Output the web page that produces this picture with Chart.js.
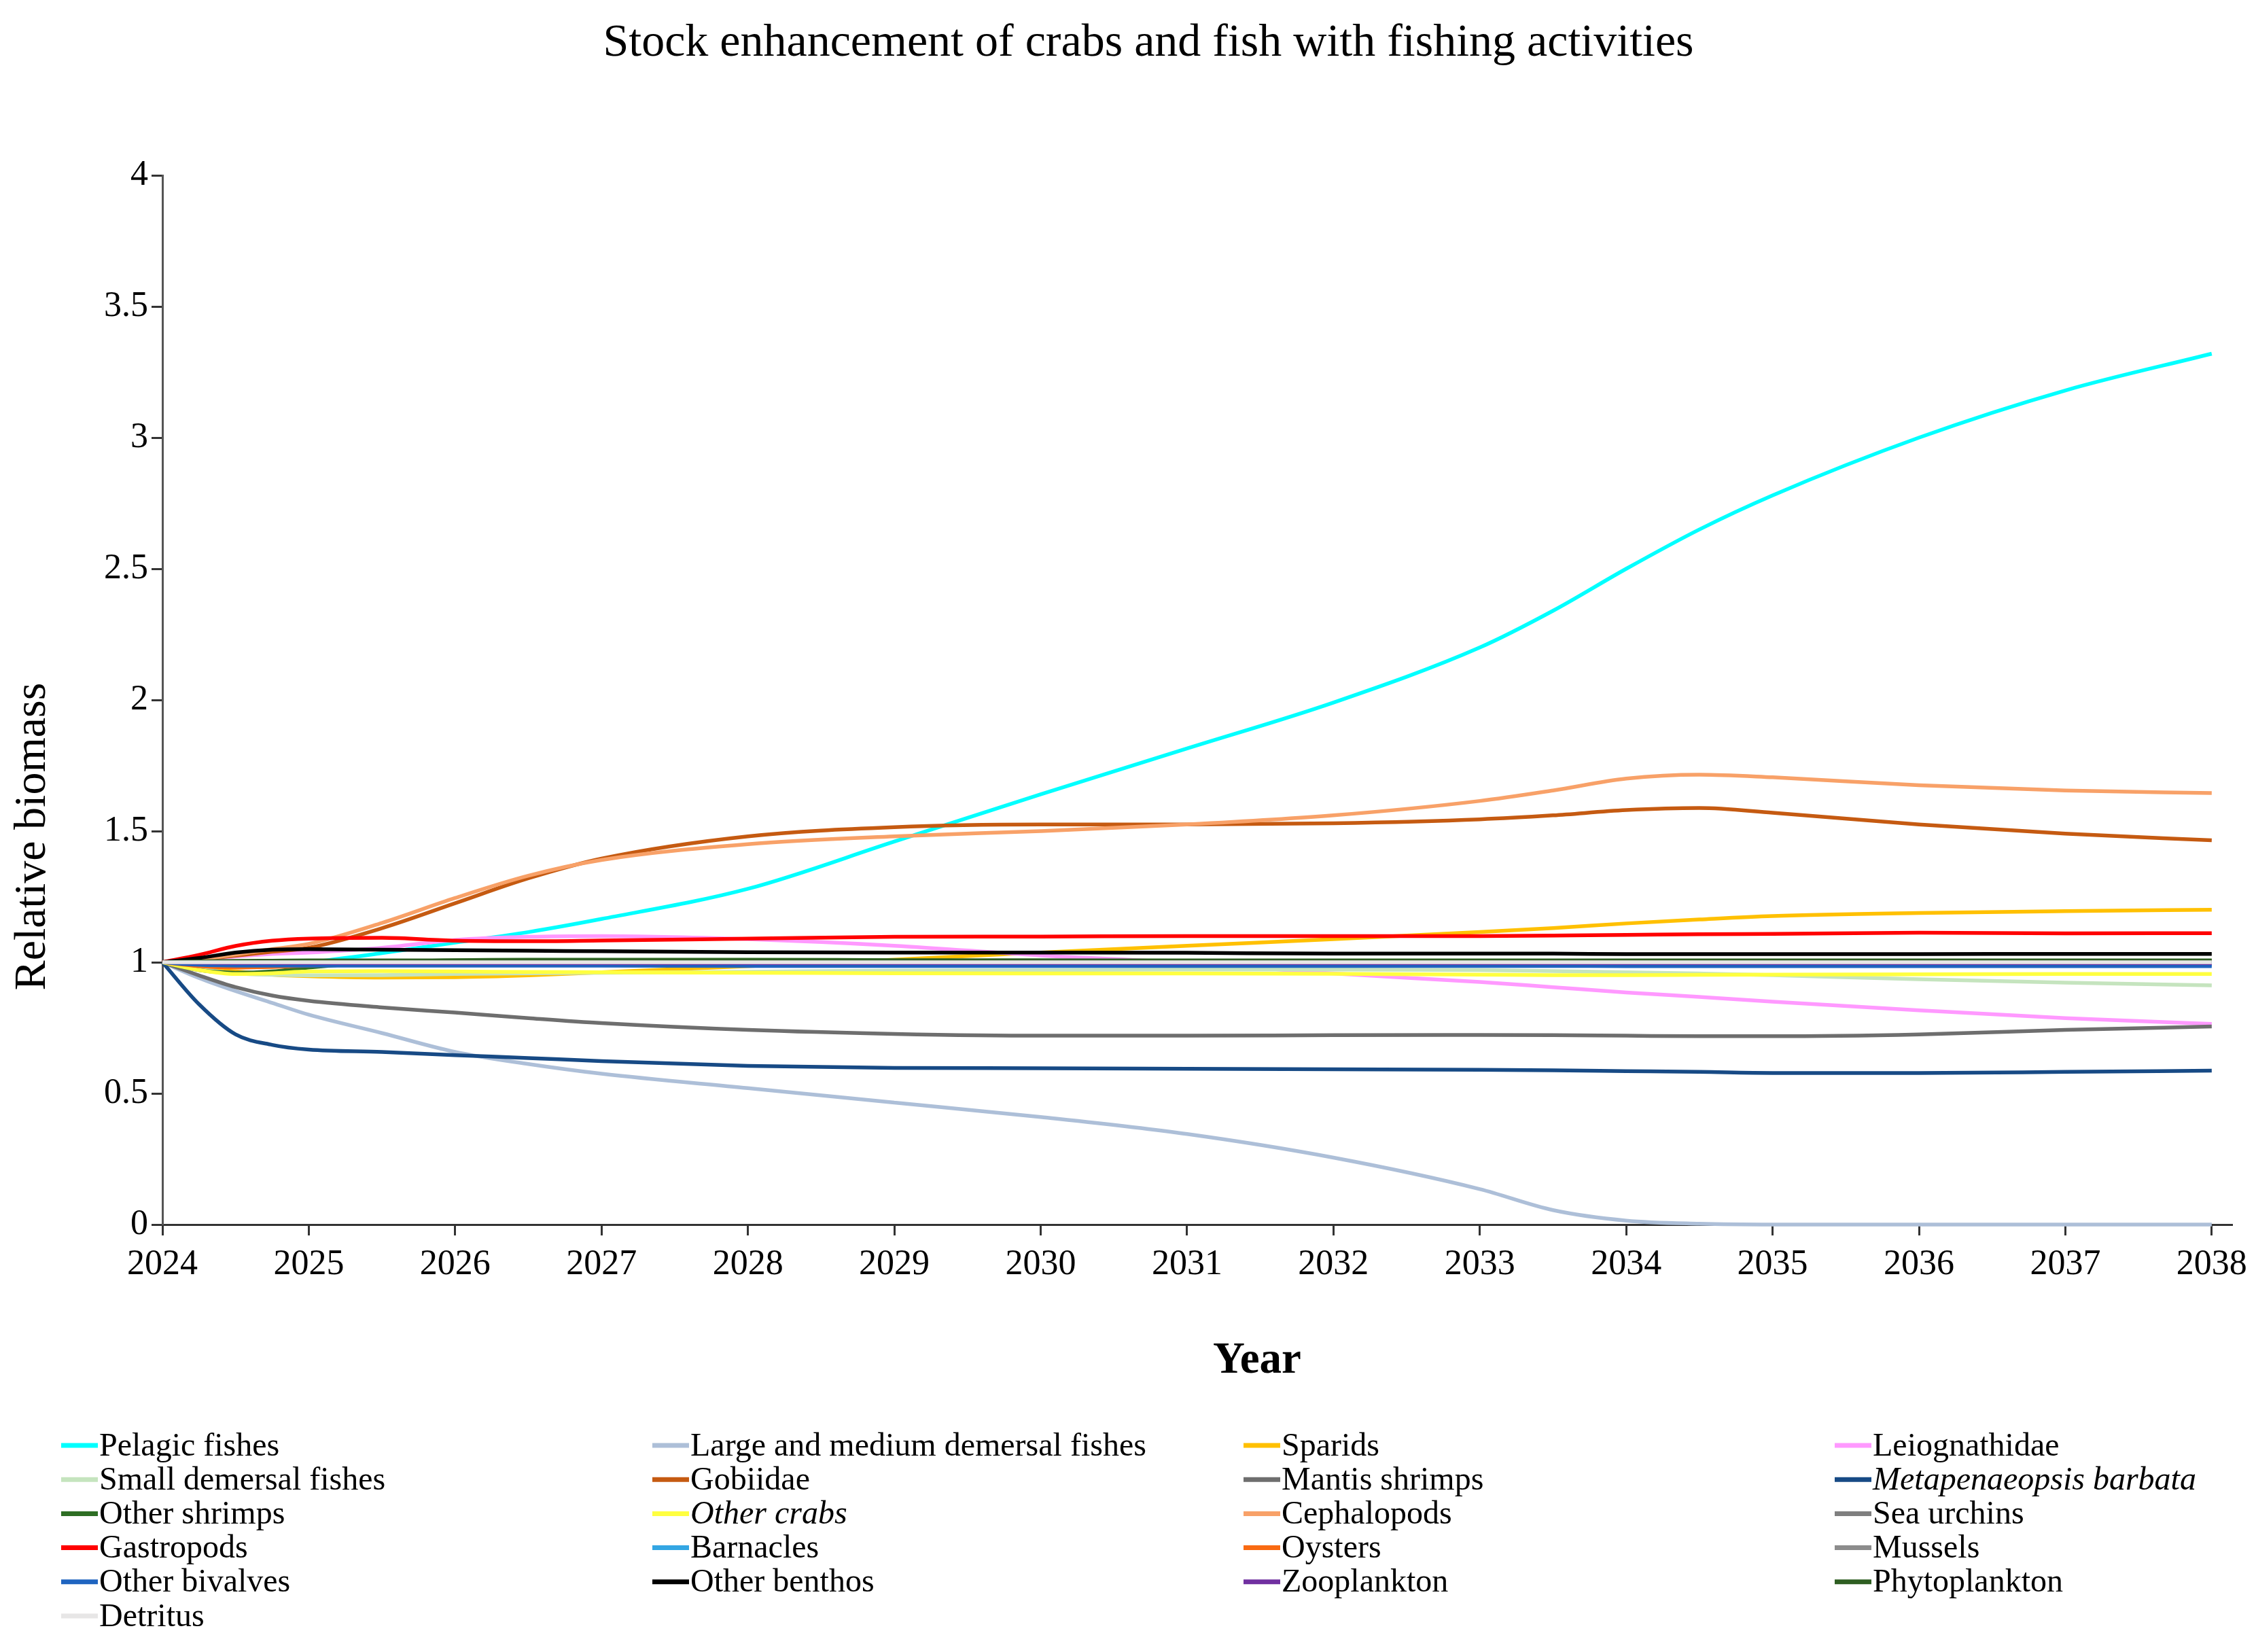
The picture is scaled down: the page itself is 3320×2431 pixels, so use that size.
<!DOCTYPE html>
<html lang="en">
<head>
    <meta charset="UTF-8">
    <title>Stock enhancement of crabs and fish with fishing activities</title>
    <script src="https://cdn.jsdelivr.net/npm/chart.js"></script>
    <style>
        html, body {
            margin: 0;
            padding: 0;
            background: #ffffff;
        }
        #chart {
            display: block;
        }
    </style>
</head>
<body>
    <canvas id="chart" width="3320" height="2431"></canvas>

    <script>
        // time steps (years)
        const years = [2024, 2024.25, 2024.5, 2024.75, 2025, 2025.5, 2026, 2026.5, 2027, 2028, 2029,
                       2030, 2031, 2032, 2033, 2033.5, 2034, 2034.5, 2035, 2036, 2037, 2038];

        // relative biomass per group
        const pelagicFishes   = [1, 0.99, 0.985, 0.99, 1.0, 1.035, 1.075, 1.115, 1.165, 1.28, 1.46, 1.64, 1.815, 1.99, 2.2, 2.34, 2.5, 2.65, 2.78, 3.0, 3.18, 3.32];
        const largeDemersal   = [1, 0.94, 0.89, 0.845, 0.8, 0.73, 0.658, 0.612, 0.575, 0.52, 0.465, 0.41, 0.345, 0.255, 0.135, 0.055, 0.015, 0.003, 0, 0, 0, 0];
        const sparids         = [1, 0.98, 0.965, 0.953, 0.947, 0.942, 0.943, 0.95, 0.962, 0.985, 1.01, 1.037, 1.063, 1.088, 1.115, 1.13, 1.148, 1.163, 1.176, 1.188, 1.195, 1.2];
        const leiognathidae   = [1, 1.007, 1.022, 1.032, 1.037, 1.055, 1.085, 1.097, 1.1, 1.088, 1.063, 1.026, 0.998, 0.957, 0.925, 0.905, 0.885, 0.868, 0.85, 0.817, 0.787, 0.765];
        const smallDemersal   = [1, 0.975, 0.958, 0.952, 0.95, 0.951, 0.955, 0.958, 0.96, 0.964, 0.968, 0.97, 0.972, 0.972, 0.97, 0.966, 0.962, 0.957, 0.951, 0.935, 0.922, 0.912];
        const gobiidae        = [1, 1.01, 1.025, 1.04, 1.055, 1.13, 1.225, 1.32, 1.395, 1.48, 1.515, 1.525, 1.525, 1.53, 1.545, 1.56, 1.58, 1.588, 1.57, 1.525, 1.49, 1.465];
        const mantisShrimps   = [1, 0.95, 0.905, 0.873, 0.853, 0.828, 0.808, 0.787, 0.768, 0.742, 0.727, 0.72, 0.72, 0.722, 0.723, 0.722, 0.72, 0.718, 0.718, 0.725, 0.742, 0.755];
        const metapenaeopsis  = [1, 0.84, 0.725, 0.685, 0.667, 0.658, 0.646, 0.635, 0.623, 0.605, 0.597, 0.596, 0.594, 0.592, 0.59, 0.588, 0.585, 0.582, 0.578, 0.578, 0.582, 0.587];
        const otherShrimps    = [1, 0.97, 0.96, 0.965, 0.98, 1.0, 1.008, 1.01, 1.01, 1.01, 1.008, 1.007, 1.006, 1.006, 1.005, 1.005, 1.005, 1.005, 1.005, 1.005, 1.005, 1.005];
        const otherCrabs      = [1, 0.97, 0.955, 0.958, 0.965, 0.966, 0.965, 0.963, 0.962, 0.96, 0.958, 0.957, 0.957, 0.956, 0.953, 0.951, 0.951, 0.952, 0.953, 0.954, 0.955, 0.955];
        const cephalopods     = [1, 1.01, 1.03, 1.05, 1.07, 1.15, 1.245, 1.33, 1.39, 1.45, 1.48, 1.5, 1.525, 1.56, 1.615, 1.655, 1.7, 1.715, 1.705, 1.675, 1.655, 1.645];
        const seaUrchins      = [1, 0.995, 0.993, 0.993, 0.993, 0.994, 0.995, 0.995, 0.995, 0.995, 0.995, 0.995, 0.995, 0.995, 0.995, 0.995, 0.995, 0.995, 0.994, 0.994, 0.994, 0.994];
        const gastropods      = [1, 1.028, 1.062, 1.082, 1.09, 1.093, 1.082, 1.08, 1.083, 1.09, 1.097, 1.098, 1.1, 1.1, 1.1, 1.102, 1.104, 1.107, 1.108, 1.113, 1.11, 1.111];
        const barnacles       = [1, 0.995, 0.99, 0.99, 0.99, 0.99, 0.99, 0.99, 0.99, 0.99, 0.99, 0.99, 0.99, 0.99, 0.99, 0.99, 0.99, 0.99, 0.99, 0.99, 0.99, 0.99];
        const oysters         = [1, 0.985, 0.98, 0.982, 0.987, 0.995, 1.0, 1.0, 1.0, 1.0, 1.0, 1.0, 1.0, 1.0, 1.0, 1.0, 1.0, 1.0, 1.0, 1.0, 1.0, 1.0];
        const mussels         = [1, 0.998, 0.997, 0.997, 0.997, 0.997, 0.997, 0.997, 0.997, 0.997, 0.997, 0.997, 0.997, 0.997, 0.997, 0.997, 0.997, 0.997, 0.997, 0.997, 0.997, 0.997];
        const otherBivalves   = [1, 0.99, 0.987, 0.987, 0.987, 0.987, 0.987, 0.987, 0.987, 0.986, 0.986, 0.986, 0.986, 0.986, 0.986, 0.986, 0.985, 0.985, 0.985, 0.985, 0.985, 0.985];
        const otherBenthos    = [1, 1.016, 1.037, 1.048, 1.05, 1.048, 1.046, 1.044, 1.042, 1.038, 1.037, 1.037, 1.036, 1.033, 1.033, 1.033, 1.031, 1.031, 1.031, 1.031, 1.032, 1.032];
        const zooplankton     = [1, 0.998, 0.997, 0.997, 0.997, 0.997, 0.997, 0.997, 0.997, 0.997, 0.997, 0.997, 0.997, 0.997, 0.997, 0.997, 0.997, 0.997, 0.997, 0.997, 0.997, 0.997];
        const phytoplankton   = [1, 1.003, 1.005, 1.006, 1.007, 1.007, 1.007, 1.007, 1.007, 1.007, 1.007, 1.007, 1.007, 1.007, 1.007, 1.007, 1.007, 1.007, 1.007, 1.007, 1.007, 1.007];
        const detritus        = [1, 1, 1, 1, 1, 1, 1, 1, 1, 1, 1, 1, 1, 1, 1, 1, 1, 1, 1, 1, 1, 1];

        const groupNames = ['Pelagic fishes', 'Large and medium demersal fishes', 'Sparids', 'Leiognathidae',
                            'Small demersal fishes', 'Gobiidae', 'Mantis shrimps', 'Metapenaeopsis barbata',
                            'Other shrimps', 'Other crabs', 'Cephalopods', 'Sea urchins',
                            'Gastropods', 'Barnacles', 'Oysters', 'Mussels',
                            'Other bivalves', 'Other benthos', 'Zooplankton', 'Phytoplankton',
                            'Detritus'];
        const groupValues = [pelagicFishes, largeDemersal, sparids, leiognathidae,
                             smallDemersal, gobiidae, mantisShrimps, metapenaeopsis,
                             otherShrimps, otherCrabs, cephalopods, seaUrchins,
                             gastropods, barnacles, oysters, mussels,
                             otherBivalves, otherBenthos, zooplankton, phytoplankton,
                             detritus];
        const groupColors = ['#00FFFF', '#ADBFD8', '#FFC000', '#FF99FF',
                             '#C5E4BE', '#C55A11', '#6E6E6E', '#174A85',
                             '#2E6E24', '#FFFF40', '#F8A168', '#7F7F7F',
                             '#FF0000', '#33A6E3', '#F96A12', '#8C8C8C',
                             '#1F64C0', '#000000', '#7030A0', '#2E5E22',
                             '#E7E6E6'];
        const italicNames = ['Metapenaeopsis barbata', 'Other crabs'];

        const serif = "'Liberation Serif', 'Times New Roman', serif";

        const datasets = groupNames.map((name, i) => ({
            label: name,
            data: years.map((x, j) => ({ x: x, y: groupValues[i][j] })),
            borderColor: groupColors[i],
            backgroundColor: groupColors[i],
            borderWidth: 5.5,
            pointRadius: 0,
            cubicInterpolationMode: 'monotone',
            fill: false,
            clip: false,
            order: groupNames.length - i   // later groups painted on top, as in the original
        }));

        // title, axis titles and the 4-column legend
        const textPlugin = {
            id: 'textPlugin',
            afterDraw(chart) {
                const ctx = chart.ctx;
                ctx.save();
                ctx.fillStyle = '#000';

                ctx.font = '68px ' + serif;
                ctx.textAlign = 'center';
                ctx.textBaseline = 'alphabetic';
                ctx.fillText('Stock enhancement of crabs and fish with fishing activities', 1690, 82);

                ctx.font = 'bold 65px ' + serif;
                ctx.fillText('Year', 1850, 2020);

                ctx.save();
                ctx.translate(66, 1231);
                ctx.rotate(-Math.PI / 2);
                ctx.font = '66px ' + serif;
                ctx.fillText('Relative biomass', 0, 0);
                ctx.restore();

                const colX = [90, 960, 1830, 2700];
                ctx.textAlign = 'left';
                ctx.textBaseline = 'middle';
                chart.data.datasets.forEach((ds, i) => {
                    const x = colX[i % 4];
                    const y = 2127 + Math.floor(i / 4) * 50.2;
                    ctx.strokeStyle = ds.borderColor;
                    ctx.lineWidth = 7;
                    ctx.beginPath();
                    ctx.moveTo(x, y);
                    ctx.lineTo(x + 54, y);
                    ctx.stroke();
                    ctx.font = (italicNames.includes(ds.label) ? 'italic ' : '') + '48px ' + serif;
                    ctx.fillText(ds.label, x + 56, y + 2);
                });
                ctx.restore();
            }
        };

        new Chart(document.getElementById('chart'), {
            type: 'line',
            data: { datasets: datasets },
            options: {
                responsive: false,
                devicePixelRatio: 1,
                animation: false,
                layout: {
                    padding: { top: 258, left: 0, right: 35, bottom: 509 }
                },
                plugins: {
                    legend: { display: false },
                    title: { display: false },
                    tooltip: { enabled: false }
                },
                scales: {
                    x: {
                        type: 'linear',
                        min: 2024,
                        max: 2038.14,
                        afterFit: (scale) => { scale.height = 120; },
                        ticks: {
                            stepSize: 1,
                            includeBounds: false,
                            autoSkip: false,
                            maxRotation: 0,
                            padding: 12,
                            color: '#000',
                            font: { family: serif, size: 52 },
                            callback: (v) => String(Math.round(v))
                        },
                        grid: {
                            drawOnChartArea: false,
                            drawTicks: true,
                            tickLength: 16,
                            tickWidth: 3,
                            tickColor: '#333'
                        },
                        border: { color: '#333', width: 3 }
                    },
                    y: {
                        min: 0,
                        max: 4,
                        afterFit: (scale) => { scale.width = 239; },
                        ticks: {
                            stepSize: 0.5,
                            padding: 5,
                            color: '#000',
                            font: { family: serif, size: 52 },
                            callback: (v) => String(Math.round(v * 10) / 10)
                        },
                        grid: {
                            drawOnChartArea: false,
                            drawTicks: true,
                            tickLength: 16,
                            tickWidth: 3,
                            tickColor: '#333'
                        },
                        border: { color: '#555', width: 3 }
                    }
                }
            },
            plugins: [textPlugin]
        });
    </script>
</body>
</html>
